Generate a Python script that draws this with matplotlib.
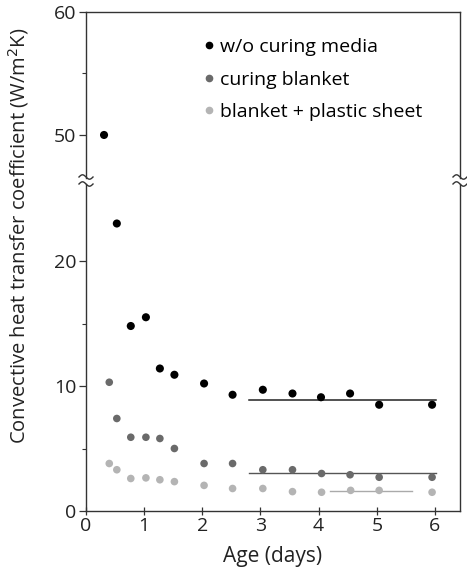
import numpy as np
import matplotlib
matplotlib.use("Agg")
import matplotlib.pyplot as plt
from matplotlib.lines import Line2D

plt.rcParams['font.family'] = ['Open Sans', 'DejaVu Sans']

# ---- data ----
age_black = [0.31, 0.53, 0.77, 1.03, 1.27, 1.52, 2.03, 2.52, 3.04, 3.55, 4.04, 4.54, 5.04, 5.95]
h_black = [50.0, 23.0, 14.8, 15.5, 11.4, 10.9, 10.2, 9.3, 9.7, 9.4, 9.1, 9.4, 8.5, 8.5]

age_gray = [0.40, 0.53, 0.77, 1.03, 1.27, 1.52, 2.03, 2.52, 3.04, 3.55, 4.05, 4.54, 5.04, 5.95]
h_gray = [10.3, 7.4, 5.9, 5.9, 5.8, 5.0, 3.8, 3.8, 3.3, 3.3, 3.0, 2.9, 2.7, 2.7]

age_light = [0.40, 0.53, 0.77, 1.03, 1.27, 1.52, 2.03, 2.52, 3.04, 3.55, 4.05, 4.55, 5.04, 5.95]
h_light = [3.8, 3.3, 2.6, 2.65, 2.5, 2.35, 2.05, 1.8, 1.8, 1.55, 1.5, 1.65, 1.65, 1.5]

fit_black_x = [2.81, 6.01]; fit_black_y = 8.88
fit_gray_x = [2.81, 6.01]; fit_gray_y = 3.07
fit_light_x = [4.19, 5.60]; fit_light_y = 1.6

labels = ['w/o curing media', 'curing blanket', 'blanket + plastic sheet']
colors = ['#000000', '#6a6a6a', '#b4b4b4']

W, H = 467, 569
fig = plt.figure(figsize=(W / 100, H / 100), dpi=100)

def fx(px): return px / W
def fy(py): return 1 - py / H

left_px, right_px = 86, 460
ax_lo = fig.add_axes([fx(left_px), fy(511), fx(right_px - left_px), (511 - 184) / H])
ax_hi = fig.add_axes([fx(left_px), fy(178), fx(right_px - left_px), (178 - 12) / H])

for ax in (ax_lo, ax_hi):
    ax.scatter(age_black, h_black, s=34, color=colors[0], edgecolors='none', zorder=3)
    ax.scatter(age_gray, h_gray, s=30, color=colors[1], edgecolors='none', zorder=3)
    ax.scatter(age_light, h_light, s=30, color=colors[2], edgecolors='none', zorder=3)
    ax.plot(fit_black_x, [fit_black_y] * 2, color='#222222', lw=1.1, zorder=2)
    ax.plot(fit_gray_x, [fit_gray_y] * 2, color='#555555', lw=1.0, zorder=2)
    ax.plot(fit_light_x, [fit_light_y] * 2, color='#aaaaaa', lw=1.0, zorder=2)
    ax.set_xlim(0, 6.43)
    for s in ax.spines.values():
        s.set_color('#333333')
        s.set_linewidth(1.0)

ax_lo.set_ylim(0, 26.16)
ax_hi.set_ylim(46.5, 60)
ax_lo.spines['top'].set_visible(False)
ax_hi.spines['bottom'].set_visible(False)

ax_lo.set_yticks([0, 10, 20])
ax_lo.set_yticks([5, 15], minor=True)
ax_hi.set_yticks([50, 60])
ax_hi.set_yticks([55], minor=True)
ax_lo.set_xticks(range(7))
ax_hi.set_xticks([])

tick_fs = 14
for ax in (ax_lo, ax_hi):
    ax.tick_params(axis='y', which='major', direction='out', length=5, width=0.9,
                   labelsize=tick_fs, colors='#333333', labelcolor='#222222', pad=2)
    ax.tick_params(axis='y', which='minor', direction='out', length=3, width=0.8, colors='#333333')
ax_lo.tick_params(axis='x', which='major', direction='inout', length=6, width=0.9,
                  labelsize=tick_fs, colors='#333333', labelcolor='#222222', pad=1)

fig.text(fx(273), fy(567), 'Age (days)', ha='center', va='bottom',
         fontsize=15, color='#222222')
fig.text(fx(19), fy(236), 'Convective heat transfer coefficient (W/m$^2$K)',
         rotation=90, ha='center', va='center', fontsize=14.5, color='#222222')

# legend
leg_handles = [Line2D([], [], marker='o', ls='none', color=c, markersize=4.5) for c in colors]
ax_hi.legend(leg_handles, labels, loc='upper left', bbox_to_anchor=(0.281, 0.89),
             frameon=False, fontsize=14, handletextpad=0.1, labelspacing=0.75,
             handlelength=1.0, borderaxespad=0)

# break marks
def brk(xc, yc):
    t = np.linspace(-1, 1, 40)
    xs = xc + 7 * t
    ys = yc + 2.2 * np.sin(np.pi * t)
    fig.add_artist(Line2D(fx(xs), fy(ys), transform=fig.transFigure, color='#333333', lw=1.0))

for xc in (left_px, right_px):
    brk(xc, 177)
    brk(xc, 184)

fig.savefig('out.png', dpi=100, facecolor='white')
